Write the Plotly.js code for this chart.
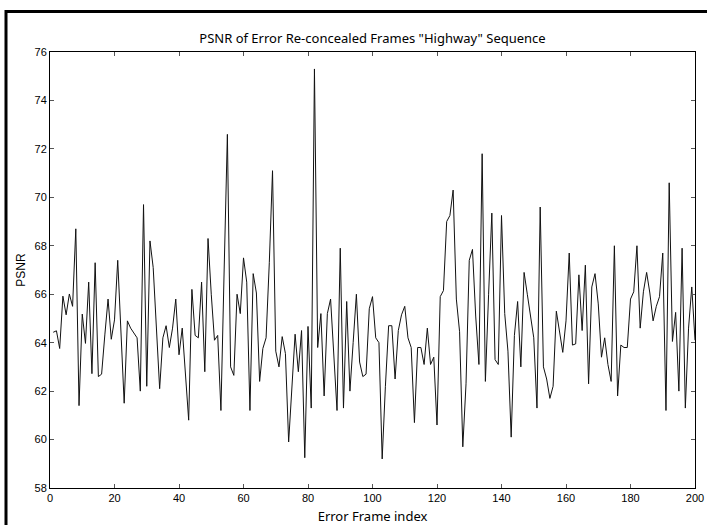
<!DOCTYPE html>
<html>
<head>
<meta charset="utf-8">
<script src="https://cdn.plot.ly/plotly-3.0.1.min.js"></script>
<style>
html, body { margin: 0; padding: 0; background: #fff; }
#chart { width: 707px; height: 525px; }
</style>
</head>
<body>
<div id="chart"></div>
<script>
// Error frame index (1..200)
var frameIndex = [];
for (var k = 1; k <= 200; k++) frameIndex.push(k);

// PSNR values
var psnr = [
  64.43, 64.49, 63.76, 65.92, 65.15, 66.01, 65.5, 68.7, 61.4, 65.18,
  63.97, 66.5, 62.72, 67.3, 62.6, 62.7, 64.32, 65.8, 64.14, 64.94,
  67.4, 64.4, 61.5, 64.9, 64.6, 64.4, 64.2, 62.0, 69.7, 62.2,
  68.2, 67.1, 64.6, 62.1, 64.2, 64.7, 63.8, 64.6, 65.8, 63.5,
  64.6, 62.7, 60.8, 66.2, 64.3, 64.2, 66.5, 62.8, 68.3, 66.0,
  64.1, 64.3, 61.2, 67.0, 72.6, 63.0, 62.65, 66.0, 65.2, 67.5,
  66.5, 61.2, 66.85, 66.05, 62.4, 63.76, 64.2, 67.3, 71.1, 63.65,
  63.0, 64.25, 63.55, 59.9, 62.0, 64.35, 62.8, 64.5, 59.25, 64.67,
  61.3, 75.3, 63.8, 65.2, 61.8, 65.2, 65.8, 63.6, 61.2, 67.9,
  61.3, 65.7, 62.0, 64.0, 66.0, 63.2, 62.6, 62.7, 65.4, 65.9,
  64.2, 64.0, 59.2, 62.2, 64.7, 64.7, 62.5, 64.5, 65.15, 65.5,
  64.2, 63.8, 60.7, 63.8, 63.8, 63.1, 64.6, 63.1, 63.4, 60.6,
  65.9, 66.15, 69.0, 69.25, 70.3, 65.8, 64.45, 59.7, 62.3, 67.4,
  67.85, 65.1, 63.1, 71.8, 62.4, 66.0, 69.35, 63.3, 63.1, 69.25,
  65.2, 63.65, 60.1, 64.3, 65.7, 63.0, 66.9, 66.0, 65.15, 64.2,
  61.3, 69.6, 63.0, 62.5, 61.7, 62.2, 65.3, 64.5, 63.6, 64.9,
  67.7, 63.9, 63.95, 66.8, 64.5, 67.2, 62.3, 66.3, 66.85, 65.6,
  63.4, 64.2, 63.1, 62.4, 68.0, 61.8, 63.9, 63.8, 63.8, 65.8,
  66.1, 68.0, 64.6, 66.1, 66.9, 66.05, 64.9, 65.5, 65.9, 67.7,
  61.2, 70.6, 64.05, 65.25, 62.0, 67.9, 61.3, 64.6, 66.3, 64.1
];

var xTickVals = [0, 20, 40, 60, 80, 100, 120, 140, 160, 180, 200];
var yTickVals = [58, 60, 62, 64, 66, 68, 70, 72, 74, 76];

var titleText = 'PSNR of Error Re-concealed Frames "Highway" Sequence';
var xTitle = 'Error Frame index';
var yTitle = 'PSNR';

var trace = {
  x: frameIndex,
  y: psnr,
  type: 'scatter',
  mode: 'lines',
  line: { color: '#111111', width: 1 },
  hoverinfo: 'x+y'
};

var axisCommon = {
  showgrid: false,
  zeroline: false,
  showline: true,
  linecolor: '#000000',
  linewidth: 1,
  mirror: 'ticks',
  ticks: 'inside',
  ticklen: 4,
  tickwidth: 1,
  tickcolor: '#555555',
  tickfont: { family: 'Liberation Sans, Arial, sans-serif', size: 11, color: '#000' }
};

var layout = {
  width: 707,
  height: 525,
  margin: { l: 50, r: 12, t: 52, b: 37 },
  paper_bgcolor: '#ffffff',
  plot_bgcolor: '#ffffff',
  showlegend: false,
  title: {
    text: titleText,
    font: { family: 'Noto Sans, DejaVu Sans, sans-serif', size: 13, color: '#000' },
    x: 0.5 + (50 - 12) / 2 / 707,
    xanchor: 'center',
    y: 1 - 38 / 525,
    yanchor: 'middle'
  },
  xaxis: Object.assign({}, axisCommon, {
    range: [0, 200],
    tickvals: xTickVals,
    ticktext: xTickVals.map(String),
    automargin: false,
    title: { text: xTitle, standoff: 8,
      font: { family: 'Noto Sans, DejaVu Sans, sans-serif', size: 13, color: '#000' } }
  }),
  yaxis: Object.assign({}, axisCommon, {
    range: [58, 76],
    tickvals: yTickVals,
    ticktext: yTickVals.map(String),
    automargin: false,
    title: { text: yTitle, standoff: 6,
      font: { family: 'Liberation Sans, Arial, sans-serif', size: 12, color: '#000' } }
  }),
  shapes: [
    { type: 'line', xref: 'paper', yref: 'paper',
      x0: (6 - 50) / 645, x1: (707 - 50) / 645 + 0.01,
      y0: (488 - 11.5) / 436, y1: (488 - 11.5) / 436,
      line: { color: '#000', width: 3 } },
    { type: 'line', xref: 'paper', yref: 'paper',
      x0: (6 - 50) / 645, x1: (6 - 50) / 645,
      y0: (488 - 10) / 436, y1: (488 - 530) / 436,
      line: { color: '#000', width: 3 } }
  ]
};

Plotly.newPlot('chart', [trace], layout, { displayModeBar: false, staticPlot: true });
</script>
</body>
</html>
